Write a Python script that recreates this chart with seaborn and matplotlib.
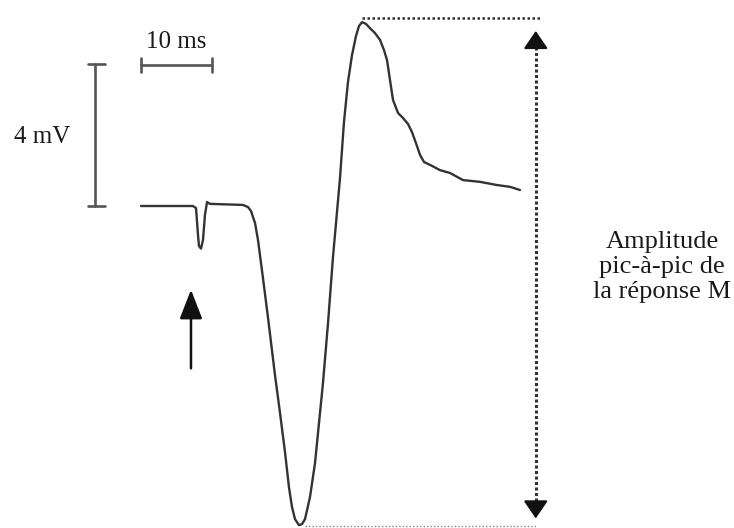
import numpy as np
import pandas as pd
import matplotlib
matplotlib.use("Agg")
import matplotlib.pyplot as plt
import seaborn as sns

# M-wave trace: time in ms (0 = start of trace), voltage in mV (0 = baseline)
time_ms = [0.0, 7.32, 7.75, 8.03, 8.17, 8.45, 8.73, 9.01, 9.30, 9.72, 14.37, 15.07, 15.49,
           16.06, 16.48, 17.18, 17.89, 18.87, 19.58, 20.28, 20.85, 21.27, 21.69, 22.25,
           22.68, 23.10, 23.80, 24.51, 25.21, 25.63, 26.34, 27.04, 28.03, 28.59, 29.15,
           29.72, 30.28, 30.70, 31.13, 31.69, 32.25, 32.96, 33.66, 34.23, 34.65, 35.07,
           35.49, 36.20, 36.90, 37.61, 38.17, 38.73, 39.30, 39.86, 40.99, 42.11, 43.52,
           45.35, 47.75, 50.14, 51.97, 53.38]
volt_mv = [0.0, 0.0, -0.06, -0.82, -1.13, -1.20, -0.96, -0.25, 0.11, 0.06, 0.03, -0.03, -0.14,
           -0.48, -0.96, -2.03, -3.15, -4.76, -5.83, -6.93, -7.94, -8.48, -8.82, -8.99,
           -8.96, -8.82, -8.20, -7.24, -5.83, -4.99, -3.30, -1.44, 0.79, 2.37, 3.49,
           4.25, 4.79, 5.07, 5.18, 5.13, 5.01, 4.87, 4.68, 4.39, 4.11, 3.55,
           2.99, 2.62, 2.48, 2.31, 2.08, 1.77, 1.44, 1.24, 1.13, 1.01, 0.93,
           0.73, 0.68, 0.59, 0.54, 0.45]

# scale bars and annotations
scale_ms = 10
scale_mv = 4
stim_time = 7.04
peak_to_peak = (max(volt_mv), min(volt_mv))
scale_labels = ["10 ms", "4 mV"]
amp_label = "Amplitude\npic-à-pic de\nla réponse M"

df = pd.DataFrame({"t": time_ms, "v": volt_mv})

sns.set_theme(style="white")
plt.rcParams["font.family"] = ["Liberation Serif", "DejaVu Serif"]

ink = "#333333"
bar_c = "#555555"
px_ms, px_mv = 7.1, 35.5   # pixels per ms / per mV in the figure

fig = plt.figure(figsize=(7.34, 5.28), dpi=100)
ax = fig.add_axes([0, 0, 1, 1])
ax.set_xlim(-141 / px_ms, (734 - 141) / px_ms)
ax.set_ylim((206 - 528) / px_mv, 206 / px_mv)
ax.set_axis_off()

sns.lineplot(data=df, x="t", y="v", sort=False, color=ink, lw=1.7, ax=ax)

# horizontal 10 ms bar
ax.plot([0, scale_ms], [3.97, 3.97], color=bar_c, lw=1.9)
for xc in (0, scale_ms):
    ax.plot([xc, xc], [3.77, 4.17], color=bar_c, lw=1.9)
ax.text(scale_ms / 2, 4.62, scale_labels[0], ha="center", va="center", fontsize=18, color="#1a1a1a")

# vertical 4 mV bar
ax.plot([-6.48, -6.48], [0, scale_mv], color=bar_c, lw=1.9)
for yc in (0, scale_mv):
    ax.plot([-7.46, -5.07], [yc, yc], color=bar_c, lw=1.9)
ax.text(-13.94, 1.94, scale_labels[1], ha="center", va="center", fontsize=18, color="#1a1a1a")

# stimulus arrow
ax.annotate("", xy=(stim_time, -2.28), xytext=(stim_time, -4.65),
            arrowprops=dict(arrowstyle="-|>,head_length=1.8,head_width=0.7",
                            lw=1.8, color="#111111", mutation_scale=10))

# peak-to-peak dotted guides
top, bot = peak_to_peak[0] + 0.12, peak_to_peak[1] - 0.03
xa = 55.6
ax.plot([31.1, 56.2], [top, top], color=ink, lw=1.8, ls=(0, (1, 1)))
ax.plot([23.1, 55.8], [bot, bot], color=ink, lw=1.0, ls=(0, (1, 1.5)), alpha=0.6)
ax.plot([xa, xa], [top - 0.5, bot + 0.5], color=ink, lw=2.2, ls=(0, (1, 0.8)))
ax.annotate("", xy=(xa, top - 0.29), xytext=(xa, top - 0.8),
            arrowprops=dict(arrowstyle="-|>,head_length=1.1,head_width=0.75",
                            lw=1.5, color="#111111", mutation_scale=10))
ax.annotate("", xy=(xa, bot + 0.14), xytext=(xa, bot + 0.65),
            arrowprops=dict(arrowstyle="-|>,head_length=1.1,head_width=0.75",
                            lw=1.5, color="#111111", mutation_scale=10))

ax.text(73.4, -1.72, amp_label, ha="center", va="center", fontsize=19,
        linespacing=1.2, color="#1a1a1a")

fig.savefig("out.png", dpi=100)
